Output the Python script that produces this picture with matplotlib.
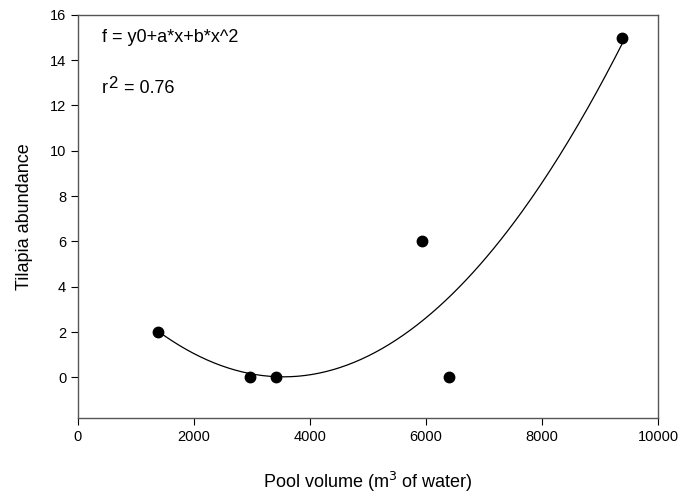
import numpy as np
import matplotlib
matplotlib.use("Agg")
import matplotlib.pyplot as plt

plt.rcParams['font.family'] = ['Liberation Sans', 'DejaVu Sans']

#DATA
pool_volume = [1380, 2960, 3410, 5930, 6400, 9380]
tilapia = [2, 0, 0, 6, 0, 15]
x_ticks = [0, 2000, 4000, 6000, 8000, 10000]
y_ticks = [0, 2, 4, 6, 8, 10, 12, 14, 16]

#quadratic regression f = y0 + a*x + b*x^2
b, a, y0 = np.polyfit(pool_volume, tilapia, 2)
xfit = np.linspace(min(pool_volume), max(pool_volume), 200)
yfit = y0 + a * xfit + b * xfit ** 2

fig = plt.figure(figsize=(6.81, 4.96), dpi=100)
ax = fig.add_axes([0.1145, 0.157, 0.852, 0.813])

ax.plot(xfit, yfit, color='black', linewidth=0.9)
ax.plot(pool_volume, tilapia, 'o', color='black', markersize=7.5)

ax.set_xlim(0, 10000)
ax.set_ylim(-1.8, 16)
ax.set_xticks(x_ticks)
ax.set_yticks(y_ticks)
ax.tick_params(direction='out', length=5, width=0.8, labelsize=10.5, colors='black')
for s in ax.spines.values():
    s.set_color('#555555')
    s.set_linewidth(1.0)

ax.set_xlabel('Pool volume (m$^3$ of water)', fontsize=13, labelpad=19)
ax.set_ylabel('Tilapia abundance', fontsize=13, labelpad=12)

#equation and r^2 text
ax.text(414, 14.8, 'f = y0+a*x+b*x^2', fontsize=13, va='baseline')
ax.text(414, 12.55, 'r', fontsize=13, va='baseline')
ax.text(520, 12.78, '2', fontsize=12, va='baseline')
ax.text(790, 12.55, '= 0.76', fontsize=13, va='baseline')

fig.savefig('out.png', dpi=100)
